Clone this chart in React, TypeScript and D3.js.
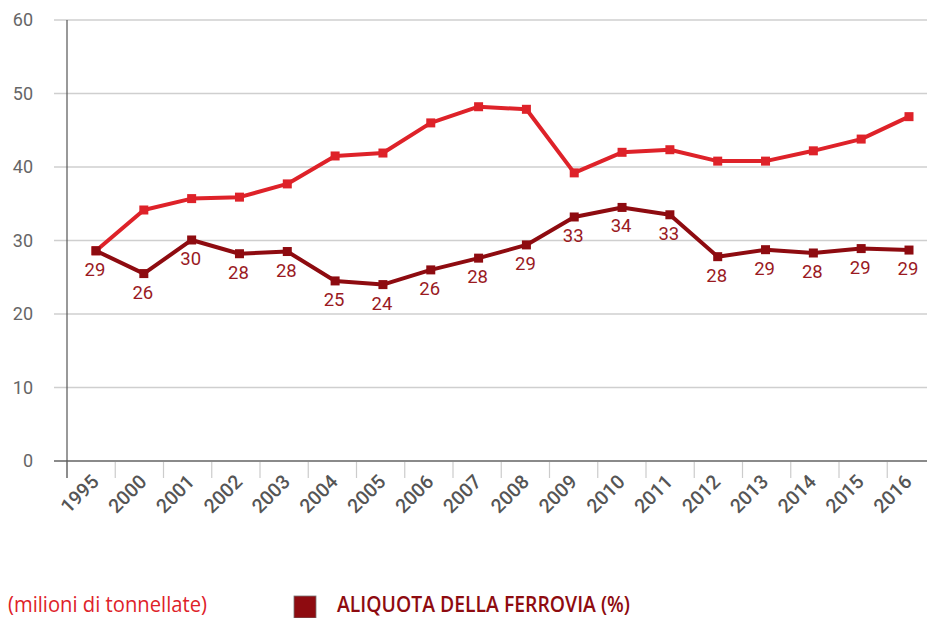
import React from "react";
import * as d3 from "d3";

const years = ["1995","2000","2001","2002","2003","2004","2005","2006","2007","2008","2009","2010","2011","2012","2013","2014","2015","2016"];
const tonnes = [28.6,34.15,35.7,35.9,37.7,41.5,41.9,46.0,48.2,47.85,39.2,42.0,42.35,40.8,40.8,42.2,43.8,46.85];
const railShare = [28.6,25.5,30.07,28.2,28.5,24.5,24.0,26.0,27.6,29.4,33.2,34.5,33.5,27.8,28.75,28.3,28.9,28.7];
const railLabels = ["29","26","30","28","28","25","24","26","28","29","33","34","33","28","29","28","29","29"];
const yTicks = [0,10,20,30,40,50,60];
const unitLabel = "(milioni di tonnellate)";
const legendLabel = "ALIQUOTA DELLA FERROVIA (%)";

const W = 927, H = 618;
const RED = "#de2229";
const DARK = "#8e0b10";
const LABEL = "#9a1a1f";

export default function App() {
  const y = d3.scaleLinear().domain([0, 60]).range([461, 20]);
  const x = d3.scalePoint<string>().domain(years).range([96, 909]);
  const xb = d3.scaleBand<string>().domain(years).range([67, 67 + 18 * 48.25]);
  const line = d3.line<number>().x((_, i) => x(years[i])!).y(d => y(d));
  const font = "Roboto, 'Open Sans', sans-serif";
  return (
    <svg width={W} height={H} style={{ position: "absolute", left: 0, top: 0, background: "#fff" }}>
      {yTicks.map(t => (
        <g key={t}>
          {t !== 0 && <line x1={54} x2={W} y1={y(t)} y2={y(t)} stroke="#cfcfcf" strokeWidth={1.5} />}
          <text x={33} y={y(t) + 6} textAnchor="end" fontFamily={font} fontSize={18} fill="#666">{t}</text>
        </g>
      ))}
      {years.map(c => (
        <line key={c} x1={xb(c)!} x2={xb(c)!} y1={461} y2={478} stroke="#cccccc" strokeWidth={1.2} />
      ))}
      <line x1={54} x2={W} y1={y(0)} y2={y(0)} stroke="#8a8a8a" strokeWidth={2} />
      <line x1={67} x2={67} y1={20} y2={478} stroke="#555" strokeWidth={1.2} />
      {years.map(c => (
        <text key={c} transform={`translate(${x(c)! + 4},${483}) rotate(-45)`} textAnchor="end" fontFamily={font} fontWeight={500} fontSize={19.5} fill="#555">{c}</text>
      ))}
      <path d={line(tonnes)!} fill="none" stroke={RED} strokeWidth={4} strokeLinejoin="round" />
      {tonnes.map((v, i) => (
        <rect key={i} x={x(years[i])! - 4.5} y={y(v) - 4.5} width={9} height={9} fill={RED} />
      ))}
      <path d={line(railShare)!} fill="none" stroke={DARK} strokeWidth={4} strokeLinejoin="round" />
      {railShare.map((v, i) => (
        <rect key={i} x={x(years[i])! - 4.5} y={y(v) - 4.5} width={9} height={9} fill={DARK} />
      ))}
      {railShare.map((v, i) => (
        <text key={i} x={x(years[i])! - 1} y={y(v) + 25} textAnchor="middle" fontFamily={font} fontSize={18.5} fill={LABEL}>{railLabels[i]}</text>
      ))}
      <text x={8} y={612} fontFamily="'Open Sans', sans-serif" fontSize={21} fill={RED} textLength={199} lengthAdjust="spacingAndGlyphs">{unitLabel}</text>
      <rect x={294} y={596} width={22} height={22} fill={DARK} stroke="#777" strokeWidth={0.8} />
      <text x={337} y={612} fontFamily="'Open Sans', sans-serif" fontWeight={600} fontSize={21} fill={DARK} textLength={293} lengthAdjust="spacingAndGlyphs">{legendLabel}</text>
    </svg>
  );
}
